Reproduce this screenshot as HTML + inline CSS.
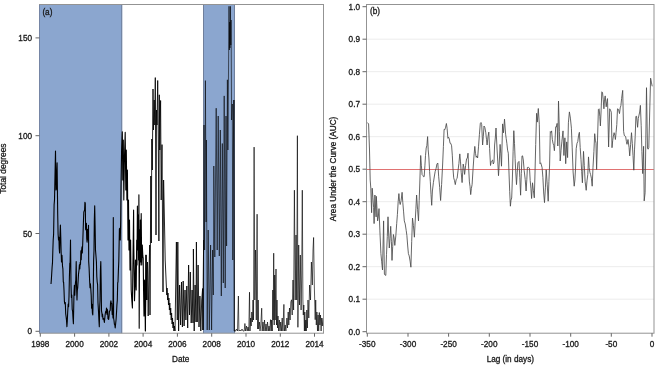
<!DOCTYPE html>
<html><head><meta charset="utf-8"><style>
html,body{margin:0;padding:0;background:#fff;width:659px;height:367px;overflow:hidden}
svg{display:block}
</style></head><body>
<svg width="659" height="367" viewBox="0 0 659 367">
<rect width="659" height="367" fill="#fff"/>

<rect x="39.5" y="4.5" width="82.7" height="328.7" fill="#8ba6cf"/>
<rect x="203" y="4.5" width="32.0" height="328.7" fill="#8ba6cf"/>
<line x1="121.7" y1="4.5" x2="121.7" y2="333.2" stroke="#6f7f9c" stroke-width="1"/>
<line x1="203.5" y1="4.5" x2="203.5" y2="333.2" stroke="#6f7f9c" stroke-width="1"/>
<line x1="234.5" y1="4.5" x2="234.5" y2="333.2" stroke="#6f7f9c" stroke-width="1"/>
<clipPath id="cl"><rect x="39.5" y="4.5" width="284.0" height="328.7"/></clipPath>
<polyline clip-path="url(#cl)" points="51.0,284.0 51.4,278.9 51.7,273.7 52.1,267.3 52.5,262.6 52.8,251.7 53.2,240.0 53.6,234.3 54.1,204.9 54.5,200.0 55.0,174.9 55.5,151.1 56.0,190.0 56.4,188.9 56.7,174.6 57.1,162.9 57.7,214.0 58.1,234.2 58.5,240.0 58.9,237.4 59.2,248.1 59.6,253.0 60.0,234.4 60.4,225.0 60.8,238.1 61.1,251.0 61.5,262.0 62.0,255.2 62.5,266.0 62.9,268.9 63.3,282.0 63.6,282.0 64.0,290.0 64.4,301.3 64.8,303.9 65.3,302.6 65.7,313.6 66.1,316.6 66.5,320.3 66.9,326.7 67.3,321.1 67.7,312.1 68.2,304.0 68.6,306.7 69.0,296.4 69.4,277.1 69.8,263.1 70.1,262.8 70.5,240.0 71.0,285.0 71.4,297.4 71.8,295.1 72.2,309.3 72.6,311.2 73.0,318.3 73.4,323.8 74.0,293.0 74.4,285.4 74.8,295.2 75.1,288.2 75.5,282.0 75.8,280.2 76.2,261.6 76.6,287.9 77.0,300.0 77.3,290.8 77.7,287.6 78.1,281.4 78.5,274.1 79.0,270.1 79.4,264.9 79.8,269.0 80.2,262.3 80.5,264.6 80.9,250.7 81.2,259.7 81.6,250.5 82.0,246.8 82.3,252.9 82.7,244.0 83.1,231.7 83.5,220.0 83.8,212.2 84.2,210.8 84.6,210.3 84.9,202.2 85.3,203.5 85.6,229.3 86.0,230.0 86.4,223.4 86.7,238.5 87.1,242.2 87.4,229.3 87.8,240.0 88.2,237.8 88.5,225.2 88.7,261.6 89.1,267.9 89.6,280.3 90.0,287.6 90.4,283.8 90.8,289.0 91.2,295.3 91.6,308.3 92.0,304.3 92.4,313.1 92.8,315.0 93.2,295.4 93.6,261.0 94.0,250.6 94.3,221.4 94.7,205.8 95.1,225.3 95.5,250.0 96.0,256.2 96.4,261.6 96.8,276.8 97.2,282.0 97.6,284.7 98.0,303.0 98.5,311.5 98.9,319.7 99.3,326.7 99.7,306.6 100.0,300.7 100.4,270.5 100.8,261.6 101.2,283.4 101.5,310.9 101.9,313.2 102.2,316.7 102.6,314.2 103.0,319.1 103.3,318.3 103.7,318.7 104.0,320.2 104.4,322.4 104.8,318.0 105.2,314.2 105.7,311.3 106.1,312.4 106.5,308.0 106.9,314.1 107.2,309.2 107.6,310.6 108.0,318.7 108.3,317.8 108.7,319.5 109.1,315.8 109.4,311.4 109.8,310.9 110.2,310.2 110.5,303.4 110.9,300.8 111.3,303.4 111.7,303.5 112.2,314.4 112.6,311.5 113.0,318.0 113.3,217.6 113.6,318.0 114.0,320.5 114.4,324.1 114.8,324.7 115.2,328.0 115.7,323.1 116.1,319.2 116.6,310.9 116.9,305.1 117.3,300.4 117.7,282.7 118.0,282.0 118.4,270.3 118.8,261.0 119.4,229.0 119.8,228.2 120.3,240.0 120.7,219.7 121.0,187.0 121.6,150.0 122.3,131.7 122.8,180.0 123.3,140.0 123.8,200.0 124.4,160.0 125.2,132.4 125.8,190.0 126.3,150.0 126.9,200.0 127.4,170.0 128.0,240.0 128.5,200.0 129.0,250.0 129.5,220.0 130.0,270.0 130.6,240.0 131.2,290.0 131.8,300.0 132.4,308.0 132.8,272.9 133.2,242.1 133.6,210.0 133.8,245.0 134.5,300.8 135.0,286.4 135.5,260.0 136.2,290.0 136.7,240.0 137.0,265.0 137.4,206.0 137.8,250.0 138.2,215.0 138.6,260.0 138.9,194.8 139.2,328.2 139.6,230.0 140.0,265.0 140.4,220.0 140.8,262.0 141.2,213.5 141.7,265.0 142.3,245.0 142.8,255.7 143.2,258.0 143.6,292.0 144.0,316.0 144.6,280.0 145.0,305.2 145.4,331.0 146.0,255.0 146.8,300.0" fill="none" stroke="#000" stroke-width="1.1" stroke-linejoin="round"/>
<polyline clip-path="url(#cl)" points="145.4,331.0 146.0,255.0 146.8,300.0 147.5,262.0 148.2,316.0 149.0,270.0 149.7,245.0 150.0,315.0 150.8,176.0 151.3,243.0 151.8,139.0 152.3,170.0 153.0,89.0 153.5,130.0 154.2,100.0 154.8,125.0 155.3,77.6 156.0,235.0 156.5,110.0 157.0,125.0 157.7,80.5 158.3,140.0 158.9,241.0 159.3,94.8 159.8,150.0 160.2,120.0 160.6,100.5 161.2,200.0 162.0,144.6 163.0,292.0 163.6,180.0 164.1,203.0 165.2,260.0 166.3,285.0 166.8,295.0 167.1,288.0 167.6,300.0 168.0,293.0 168.5,305.0 168.9,298.0 169.4,310.0 169.8,303.0 170.3,315.0 170.7,308.0 171.2,320.0 171.6,313.0 172.1,324.0 172.5,318.0 173.0,328.0 173.4,322.0 173.9,331.0 174.4,326.0 175.0,331.0 176.4,242.0 177.3,320.0 177.8,242.0 178.6,331.0 179.6,285.0 180.6,325.0 181.5,282.0 182.4,327.0 183.2,281.0 184.1,326.0 185.0,290.0 185.9,320.0 186.8,286.0 187.7,328.0 188.6,265.0 189.5,315.0 190.3,272.0 191.2,323.0 192.1,290.0 193.0,323.0 193.4,249.0 194.2,331.0 195.1,285.0 196.0,322.0 196.4,242.0 197.2,322.0 198.1,265.0 199.0,327.0 199.9,296.0 200.8,331.0 201.7,300.0 202.6,288.6 203.0,330.0 203.6,240.0" fill="none" stroke="#000" stroke-width="0.85" stroke-linejoin="round"/>
<polyline clip-path="url(#cl)" points="202.6,288.6 203.0,330.0 203.6,240.0 204.0,125.0 204.6,250.0 205.4,80.6 206.1,222.0 206.4,140.0 207.2,330.0 208.2,230.0 209.3,330.0 210.6,245.0 211.6,330.0 212.6,250.0 213.3,295.0 213.8,166.0 214.8,257.0 216.2,108.2 217.2,250.0 218.2,116.0 219.3,256.0 220.3,130.0 221.3,296.0 222.3,143.5 223.3,283.0 224.2,95.9 225.2,288.0 226.0,116.0 226.6,246.0 227.4,79.8 227.9,150.0 228.6,60.0 229.0,6.3 229.4,50.0 229.7,22.0 230.0,48.0 230.4,6.3 230.8,45.0 231.1,20.0 231.6,120.0 232.3,104.0 232.8,260.0 233.3,150.0 233.9,100.0 234.3,331.0 235.5,331.0" fill="none" stroke="#000" stroke-width="0.6" stroke-linejoin="round"/>
<polyline clip-path="url(#cl)" points="233.9,100.0 234.3,331.0 235.5,331.0 236.5,329.0 237.5,331.0 238.4,296.0 238.9,331.0 240.0,330.0 241.0,331.0 242.0,329.0 243.0,331.0 244.2,331.0 244.9,323.5 245.6,331.0 246.5,326.0 247.2,331.0 248.0,327.0 248.8,331.0 249.5,292.2 250.0,331.0 250.6,318.0 251.2,326.0 251.8,312.0 252.4,322.0 253.0,300.0 253.5,320.0 254.1,147.1 254.8,300.0 255.5,250.0 256.3,320.0 257.1,214.2 257.7,329.0 258.2,300.0 258.7,329.0 259.4,322.0 260.0,331.0 260.8,325.0 261.7,308.2 262.2,331.0 263.0,322.0 263.8,331.0 264.5,320.0 265.2,331.0 266.0,324.0 266.8,331.0 267.5,322.0 268.3,331.0 269.0,326.0 269.8,331.0 270.5,319.7 271.2,331.0 271.6,320.0 272.3,331.0 272.8,290.0 273.2,320.0 273.7,253.2 274.2,325.0 274.7,275.0 275.2,320.0 275.6,290.0 276.0,269.0 276.5,325.0 277.0,300.0 277.5,328.0 278.0,316.0 278.6,331.0 279.3,320.0 280.0,331.0 280.7,322.0 281.4,331.0 282.2,318.0 282.9,331.0 283.9,304.4 284.4,331.0 285.2,325.0 285.9,331.0 286.9,318.0 287.5,328.0 288.2,312.0 288.8,325.0 289.5,308.0 290.1,320.0 290.8,302.0 291.5,299.8 292.2,315.0 293.0,280.0 293.6,310.0 294.4,190.2 295.2,300.0 296.0,235.0 296.7,300.0 297.4,135.7 297.9,327.3 298.7,245.0 299.5,305.0 300.3,255.0 301.1,310.0 301.7,275.0 302.3,190.2 302.9,300.0 303.3,315.0 303.8,305.0 304.4,331.0 304.8,312.0 305.3,331.0 305.8,320.0 306.3,331.0 306.8,310.0 307.4,328.0 308.0,300.0 308.8,318.0 309.6,285.0 310.5,300.0 311.4,262.0 312.3,285.0 313.0,250.0 313.6,237.5 314.3,285.0 315.2,319.7 315.7,300.0 316.3,325.0 316.9,312.0 317.5,331.0 318.1,315.0 318.7,331.0 319.3,312.5 319.9,325.0 320.5,315.0 321.1,331.0 321.7,318.0 322.3,326.0 323.0,318.0" fill="none" stroke="#000" stroke-width="0.65" stroke-linejoin="round"/>
<rect x="39.5" y="4.5" width="284.0" height="328.7" fill="none" stroke="#939393" stroke-width="1"/>
<line x1="39.5" y1="5.0" x2="39.5" y2="332.7" stroke="#7585a5" stroke-width="1"/>
<line x1="35.5" y1="331.3" x2="39.5" y2="331.3" stroke="#666" stroke-width="1"/>
<text x="32" y="334.3" text-anchor="end" font-size="8.2" fill="#1a1a1a" font-family="Liberation Sans, Arial, sans-serif" stroke="#1a1a1a" stroke-width="0.3">0</text>
<line x1="35.5" y1="233.5" x2="39.5" y2="233.5" stroke="#666" stroke-width="1"/>
<text x="32" y="236.5" text-anchor="end" font-size="8.2" fill="#1a1a1a" font-family="Liberation Sans, Arial, sans-serif" stroke="#1a1a1a" stroke-width="0.3">50</text>
<line x1="35.5" y1="135.7" x2="39.5" y2="135.7" stroke="#666" stroke-width="1"/>
<text x="32" y="138.7" text-anchor="end" font-size="8.2" fill="#1a1a1a" font-family="Liberation Sans, Arial, sans-serif" stroke="#1a1a1a" stroke-width="0.3">100</text>
<line x1="35.5" y1="37.9" x2="39.5" y2="37.9" stroke="#666" stroke-width="1"/>
<text x="32" y="40.9" text-anchor="end" font-size="8.2" fill="#1a1a1a" font-family="Liberation Sans, Arial, sans-serif" stroke="#1a1a1a" stroke-width="0.3">150</text>
<line x1="40.3" y1="333.2" x2="40.3" y2="336.7" stroke="#666" stroke-width="1"/>
<text x="40.3" y="347.0" text-anchor="middle" font-size="8.2" fill="#1a1a1a" font-family="Liberation Sans, Arial, sans-serif" stroke="#1a1a1a" stroke-width="0.3">1998</text>
<line x1="74.6" y1="333.2" x2="74.6" y2="336.7" stroke="#666" stroke-width="1"/>
<text x="74.6" y="347.0" text-anchor="middle" font-size="8.2" fill="#1a1a1a" font-family="Liberation Sans, Arial, sans-serif" stroke="#1a1a1a" stroke-width="0.3">2000</text>
<line x1="108.9" y1="333.2" x2="108.9" y2="336.7" stroke="#666" stroke-width="1"/>
<text x="108.9" y="347.0" text-anchor="middle" font-size="8.2" fill="#1a1a1a" font-family="Liberation Sans, Arial, sans-serif" stroke="#1a1a1a" stroke-width="0.3">2002</text>
<line x1="143.1" y1="333.2" x2="143.1" y2="336.7" stroke="#666" stroke-width="1"/>
<text x="143.1" y="347.0" text-anchor="middle" font-size="8.2" fill="#1a1a1a" font-family="Liberation Sans, Arial, sans-serif" stroke="#1a1a1a" stroke-width="0.3">2004</text>
<line x1="177.4" y1="333.2" x2="177.4" y2="336.7" stroke="#666" stroke-width="1"/>
<text x="177.4" y="347.0" text-anchor="middle" font-size="8.2" fill="#1a1a1a" font-family="Liberation Sans, Arial, sans-serif" stroke="#1a1a1a" stroke-width="0.3">2006</text>
<line x1="211.7" y1="333.2" x2="211.7" y2="336.7" stroke="#666" stroke-width="1"/>
<text x="211.7" y="347.0" text-anchor="middle" font-size="8.2" fill="#1a1a1a" font-family="Liberation Sans, Arial, sans-serif" stroke="#1a1a1a" stroke-width="0.3">2008</text>
<line x1="246.0" y1="333.2" x2="246.0" y2="336.7" stroke="#666" stroke-width="1"/>
<text x="246.0" y="347.0" text-anchor="middle" font-size="8.2" fill="#1a1a1a" font-family="Liberation Sans, Arial, sans-serif" stroke="#1a1a1a" stroke-width="0.3">2010</text>
<line x1="280.3" y1="333.2" x2="280.3" y2="336.7" stroke="#666" stroke-width="1"/>
<text x="280.3" y="347.0" text-anchor="middle" font-size="8.2" fill="#1a1a1a" font-family="Liberation Sans, Arial, sans-serif" stroke="#1a1a1a" stroke-width="0.3">2012</text>
<line x1="314.5" y1="333.2" x2="314.5" y2="336.7" stroke="#666" stroke-width="1"/>
<text x="314.5" y="347.0" text-anchor="middle" font-size="8.2" fill="#1a1a1a" font-family="Liberation Sans, Arial, sans-serif" stroke="#1a1a1a" stroke-width="0.3">2014</text>
<text x="180.7" y="362.0" text-anchor="middle" font-size="8.2" fill="#1a1a1a" font-family="Liberation Sans, Arial, sans-serif" stroke="#1a1a1a" stroke-width="0.3">Date</text>
<text transform="translate(6.4,168.6) rotate(-90)" text-anchor="middle" font-size="8.4" fill="#1a1a1a" font-family="Liberation Sans, Arial, sans-serif" stroke="#1a1a1a" stroke-width="0.3">Total degrees</text>
<text x="42.4" y="14.5" font-size="8.2" fill="#1a1a1a" font-family="Liberation Sans, Arial, sans-serif" stroke="#1a1a1a" stroke-width="0.3">(a)</text>
<line x1="366.5" y1="299.2" x2="654" y2="299.2" stroke="#ececec" stroke-width="1"/>
<line x1="366.5" y1="266.7" x2="654" y2="266.7" stroke="#ececec" stroke-width="1"/>
<line x1="366.5" y1="234.2" x2="654" y2="234.2" stroke="#ececec" stroke-width="1"/>
<line x1="366.5" y1="201.7" x2="654" y2="201.7" stroke="#ececec" stroke-width="1"/>
<line x1="366.5" y1="136.7" x2="654" y2="136.7" stroke="#ececec" stroke-width="1"/>
<line x1="366.5" y1="104.2" x2="654" y2="104.2" stroke="#ececec" stroke-width="1"/>
<line x1="366.5" y1="71.7" x2="654" y2="71.7" stroke="#ececec" stroke-width="1"/>
<line x1="366.5" y1="39.2" x2="654" y2="39.2" stroke="#ececec" stroke-width="1"/>
<line x1="366.5" y1="169.5" x2="654" y2="169.5" stroke="#e07272" stroke-width="1"/>
<clipPath id="cr"><rect x="366.5" y="4.5" width="287.5" height="328.7"/></clipPath>
<polyline clip-path="url(#cr)" points="367.5,122.6 368.6,124.0 369.5,150.0 370.2,180.0 370.8,188.2 371.6,212.7 372.2,188.2 372.9,197.5 373.6,207.3 374.1,223.6 374.9,195.0 376.1,216.9 376.3,196.3 377.0,208.9 377.6,220.9 378.3,216.9 379.0,208.6 379.9,230.9 380.9,253.6 381.7,261.8 382.5,270.0 383.6,220.9 384.4,274.0 385.1,275.1 385.8,275.4 386.5,254.3 387.3,236.4 388.0,216.8 388.6,233.0 389.3,248.0 390.0,238.6 390.7,226.3 391.4,241.3 392.0,260.4 392.7,246.5 393.4,234.5 394.1,237.9 394.8,245.4 395.8,236.0 396.7,223.6 397.4,214.6 398.2,201.3 398.9,193.6 399.5,201.5 400.2,204.5 401.1,200.7 402.1,192.3 402.8,202.6 403.6,211.9 404.3,220.9 405.2,223.9 406.2,230.4 406.9,235.7 407.7,246.0 408.4,253.6 409.2,255.9 410.1,261.1 410.9,267.2 411.7,241.4 412.5,218.1 413.4,225.3 414.4,237.2 415.1,223.0 415.9,208.8 416.6,195.0 417.6,209.7 418.5,220.9 419.2,200.5 419.9,180.0 420.7,155.5 421.4,165.8 422.1,174.6 422.8,175.3 423.5,176.7 424.2,176.6 424.9,165.8 425.5,155.5 426.2,148.1 426.9,145.4 427.6,136.6 428.2,149.8 428.9,158.0 429.6,171.4 430.3,181.4 431.0,194.4 431.7,205.3 432.4,191.0 433.4,182.6 434.4,176.0 435.2,171.4 436.1,168.4 436.9,164.1 437.8,163.0 438.7,176.8 439.7,187.5 440.6,200.5 441.6,184.5 442.6,165.0 443.4,146.6 444.1,129.4 444.9,129.7 445.6,127.2 446.4,123.5 447.1,128.4 447.9,138.3 448.6,137.2 449.3,139.0 450.1,143.3 450.8,143.4 451.6,145.8 452.3,155.2 453.0,168.9 453.7,177.8 454.5,180.7 455.3,184.6 456.2,179.4 457.1,178.5 458.0,170.9 458.9,163.5 459.8,153.9 460.5,161.9 461.2,172.3 462.1,182.6 463.2,164.1 463.9,167.2 464.6,174.4 465.6,165.7 466.6,158.7 467.3,158.3 468.0,153.2 468.7,168.8 469.4,181.9 470.0,186.3 470.7,194.6 471.4,188.3 472.1,184.6 473.0,169.9 473.9,156.9 474.8,146.4 475.5,153.3 476.2,157.3 476.9,156.0 477.6,158.0 478.5,146.8 479.4,134.7 480.3,123.5 481.0,122.5 481.7,124.6 482.6,145.0 483.3,136.7 484.0,126.0 484.9,127.6 485.8,132.8 486.5,139.6 487.1,145.0 488.0,136.6 488.8,132.1 489.6,148.4 490.5,165.5 491.2,161.7 491.9,160.7 492.6,160.0 493.3,164.0 494.0,162.1 494.6,145.0 495.3,138.0 496.0,128.0 497.1,150.0 497.8,161.9 498.5,175.7 499.3,162.0 500.1,144.4 500.8,153.9 501.5,166.2 502.6,123.9 503.5,132.8 504.5,119.1 505.6,134.2 506.2,138.4 506.9,143.7 507.6,150.2 508.3,153.2 509.0,173.0 509.7,191.4 510.4,206.2 511.0,200.1 511.7,198.0 512.4,178.0 513.1,151.7 513.8,130.7 514.5,143.5 515.1,158.7 515.8,173.0 516.5,184.6 517.2,172.8 517.9,162.8 519.0,161.4 519.8,177.3 520.6,195.2 521.3,173.4 522.0,155.9 522.6,155.9 523.3,160.0 524.2,170.7 525.2,179.4 526.1,191.0 526.8,179.8 527.4,167.5 528.1,167.1 528.8,167.7 529.5,168.2 530.2,180.6 530.9,188.3 531.6,198.5 532.5,182.8 533.4,190.7 534.3,197.8 535.0,173.0 535.7,144.6 536.6,113.3 537.3,122.1 538.3,108.5 539.3,124.2 540.0,163.7 540.7,162.8 541.4,165.0 542.1,167.7 542.9,177.6 543.7,193.0 544.5,202.6 545.4,187.8 546.2,169.8 547.2,184.2 548.2,201.2 548.9,181.5 549.6,165.0 550.3,131.6 551.0,132.4 551.6,130.9 552.3,139.3 553.0,143.2 553.7,145.4 554.4,150.7 555.0,141.0 555.7,126.8 556.4,127.0 557.1,123.4 557.8,146.0 558.5,101.0 559.4,131.5 560.2,161.0 561.0,150.7 561.9,141.2 563.0,130.9 563.9,155.5 564.9,137.8 565.7,163.7 566.7,141.9 567.6,157.6 568.4,122.8 569.4,111.9 570.4,118.1 571.4,128.2 572.2,147.8 573.1,172.0 574.2,186.2 574.9,180.0 575.5,169.1 576.2,148.7 577.0,143.3 577.8,141.5 578.6,135.2 579.4,132.3 580.2,147.6 581.0,159.6 581.7,171.7 582.4,182.8 583.5,151.4 584.3,165.4 585.1,181.4 586.2,190.3 587.0,180.8 587.8,174.6 588.5,156.9 589.2,167.7 589.9,172.3 590.6,174.6 591.4,178.2 592.2,186.2 593.0,167.3 593.9,151.5 594.7,133.7 595.4,140.2 596.0,143.2 596.6,169.5 597.5,140.1 598.4,109.5 599.1,108.8 599.8,116.3 600.4,125.9 601.1,110.9 601.8,91.8 602.5,92.5 603.2,99.2 603.9,108.8 604.5,99.9 605.2,95.9 606.2,106.8 606.9,101.5 607.5,98.6 608.6,147.0 609.7,108.8 610.5,110.2 611.3,112.2 612.0,147.7 612.7,140.5 613.4,136.1 614.1,132.7 614.8,135.4 615.4,139.5 616.1,132.4 616.8,124.5 617.5,108.8 618.5,109.4 619.5,113.6 620.2,107.9 620.9,105.6 621.6,98.6 622.7,90.4 623.6,131.3 624.3,135.5 625.0,135.8 625.7,136.8 626.4,141.5 627.0,144.3 628.0,139.5 629.1,147.7 629.7,155.9 630.6,144.7 631.5,132.7 632.3,143.4 633.0,155.4 633.8,170.2 634.5,149.9 635.2,136.4 635.9,116.4 636.6,116.3 637.6,127.3 638.3,118.4 639.0,115.1 639.7,112.0 640.4,105.4 641.2,125.7 641.9,151.5 642.7,173.6 643.6,146.3 644.2,200.9 645.1,192.7 645.8,140.1 646.5,87.7 647.5,148.4 648.1,149.2 648.8,147.7 649.7,112.0 650.6,78.2 651.5,82.9 652.2,86.3" fill="none" stroke="#4a4a4a" stroke-width="0.85" stroke-linejoin="round"/>
<rect x="366.5" y="4.5" width="287.5" height="328.7" fill="none" stroke="#939393" stroke-width="1"/>
<line x1="362.5" y1="331.7" x2="366.5" y2="331.7" stroke="#666" stroke-width="1"/>
<text x="360" y="334.7" text-anchor="end" font-size="8.2" fill="#1a1a1a" font-family="Liberation Sans, Arial, sans-serif" stroke="#1a1a1a" stroke-width="0.3">0.0</text>
<line x1="362.5" y1="299.2" x2="366.5" y2="299.2" stroke="#666" stroke-width="1"/>
<text x="360" y="302.2" text-anchor="end" font-size="8.2" fill="#1a1a1a" font-family="Liberation Sans, Arial, sans-serif" stroke="#1a1a1a" stroke-width="0.3">0.1</text>
<line x1="362.5" y1="266.7" x2="366.5" y2="266.7" stroke="#666" stroke-width="1"/>
<text x="360" y="269.7" text-anchor="end" font-size="8.2" fill="#1a1a1a" font-family="Liberation Sans, Arial, sans-serif" stroke="#1a1a1a" stroke-width="0.3">0.2</text>
<line x1="362.5" y1="234.2" x2="366.5" y2="234.2" stroke="#666" stroke-width="1"/>
<text x="360" y="237.2" text-anchor="end" font-size="8.2" fill="#1a1a1a" font-family="Liberation Sans, Arial, sans-serif" stroke="#1a1a1a" stroke-width="0.3">0.3</text>
<line x1="362.5" y1="201.7" x2="366.5" y2="201.7" stroke="#666" stroke-width="1"/>
<text x="360" y="204.7" text-anchor="end" font-size="8.2" fill="#1a1a1a" font-family="Liberation Sans, Arial, sans-serif" stroke="#1a1a1a" stroke-width="0.3">0.4</text>
<line x1="362.5" y1="169.2" x2="366.5" y2="169.2" stroke="#666" stroke-width="1"/>
<text x="360" y="172.2" text-anchor="end" font-size="8.2" fill="#1a1a1a" font-family="Liberation Sans, Arial, sans-serif" stroke="#1a1a1a" stroke-width="0.3">0.5</text>
<line x1="362.5" y1="136.7" x2="366.5" y2="136.7" stroke="#666" stroke-width="1"/>
<text x="360" y="139.7" text-anchor="end" font-size="8.2" fill="#1a1a1a" font-family="Liberation Sans, Arial, sans-serif" stroke="#1a1a1a" stroke-width="0.3">0.6</text>
<line x1="362.5" y1="104.2" x2="366.5" y2="104.2" stroke="#666" stroke-width="1"/>
<text x="360" y="107.2" text-anchor="end" font-size="8.2" fill="#1a1a1a" font-family="Liberation Sans, Arial, sans-serif" stroke="#1a1a1a" stroke-width="0.3">0.7</text>
<line x1="362.5" y1="71.7" x2="366.5" y2="71.7" stroke="#666" stroke-width="1"/>
<text x="360" y="74.7" text-anchor="end" font-size="8.2" fill="#1a1a1a" font-family="Liberation Sans, Arial, sans-serif" stroke="#1a1a1a" stroke-width="0.3">0.8</text>
<line x1="362.5" y1="39.2" x2="366.5" y2="39.2" stroke="#666" stroke-width="1"/>
<text x="360" y="42.2" text-anchor="end" font-size="8.2" fill="#1a1a1a" font-family="Liberation Sans, Arial, sans-serif" stroke="#1a1a1a" stroke-width="0.3">0.9</text>
<line x1="362.5" y1="6.7" x2="366.5" y2="6.7" stroke="#666" stroke-width="1"/>
<text x="360" y="9.7" text-anchor="end" font-size="8.2" fill="#1a1a1a" font-family="Liberation Sans, Arial, sans-serif" stroke="#1a1a1a" stroke-width="0.3">1.0</text>
<line x1="367.3" y1="333.2" x2="367.3" y2="336.7" stroke="#666" stroke-width="1"/>
<text x="367.3" y="347.0" text-anchor="middle" font-size="8.2" fill="#1a1a1a" font-family="Liberation Sans, Arial, sans-serif" stroke="#1a1a1a" stroke-width="0.3">-350</text>
<line x1="408.0" y1="333.2" x2="408.0" y2="336.7" stroke="#666" stroke-width="1"/>
<text x="408.0" y="347.0" text-anchor="middle" font-size="8.2" fill="#1a1a1a" font-family="Liberation Sans, Arial, sans-serif" stroke="#1a1a1a" stroke-width="0.3">-300</text>
<line x1="448.6" y1="333.2" x2="448.6" y2="336.7" stroke="#666" stroke-width="1"/>
<text x="448.6" y="347.0" text-anchor="middle" font-size="8.2" fill="#1a1a1a" font-family="Liberation Sans, Arial, sans-serif" stroke="#1a1a1a" stroke-width="0.3">-250</text>
<line x1="489.3" y1="333.2" x2="489.3" y2="336.7" stroke="#666" stroke-width="1"/>
<text x="489.3" y="347.0" text-anchor="middle" font-size="8.2" fill="#1a1a1a" font-family="Liberation Sans, Arial, sans-serif" stroke="#1a1a1a" stroke-width="0.3">-200</text>
<line x1="530.0" y1="333.2" x2="530.0" y2="336.7" stroke="#666" stroke-width="1"/>
<text x="530.0" y="347.0" text-anchor="middle" font-size="8.2" fill="#1a1a1a" font-family="Liberation Sans, Arial, sans-serif" stroke="#1a1a1a" stroke-width="0.3">-150</text>
<line x1="570.7" y1="333.2" x2="570.7" y2="336.7" stroke="#666" stroke-width="1"/>
<text x="570.7" y="347.0" text-anchor="middle" font-size="8.2" fill="#1a1a1a" font-family="Liberation Sans, Arial, sans-serif" stroke="#1a1a1a" stroke-width="0.3">-100</text>
<line x1="611.3" y1="333.2" x2="611.3" y2="336.7" stroke="#666" stroke-width="1"/>
<text x="611.3" y="347.0" text-anchor="middle" font-size="8.2" fill="#1a1a1a" font-family="Liberation Sans, Arial, sans-serif" stroke="#1a1a1a" stroke-width="0.3">-50</text>
<line x1="652.0" y1="333.2" x2="652.0" y2="336.7" stroke="#666" stroke-width="1"/>
<text x="652.0" y="347.0" text-anchor="middle" font-size="8.2" fill="#1a1a1a" font-family="Liberation Sans, Arial, sans-serif" stroke="#1a1a1a" stroke-width="0.3">0</text>
<text x="510.3" y="362.0" text-anchor="middle" font-size="8.2" fill="#1a1a1a" font-family="Liberation Sans, Arial, sans-serif" stroke="#1a1a1a" stroke-width="0.3">Lag (in days)</text>
<text transform="translate(336.4,169) rotate(-90)" text-anchor="middle" font-size="8.2" fill="#1a1a1a" font-family="Liberation Sans, Arial, sans-serif" stroke="#1a1a1a" stroke-width="0.3">Area Under the Curve (AUC)</text>
<text x="370" y="14.3" font-size="8.2" fill="#1a1a1a" font-family="Liberation Sans, Arial, sans-serif" stroke="#1a1a1a" stroke-width="0.3">(b)</text>
</svg></body></html>
